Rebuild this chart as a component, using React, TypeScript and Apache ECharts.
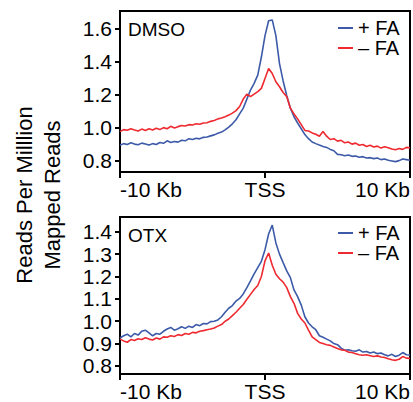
import React, { useEffect, useRef } from "react";
import * as echarts from "echarts";

// distance from TSS in kb, 0.25 kb bins from -10 to +10
const STEP_KB = 0.25;
const N_BINS = 81;
const POS_KB = Array.from({ length: N_BINS }, (_, i) => -10 + i * STEP_KB);

const X_TICK_LABELS: Record<string, string> = { "-10": "-10 Kb", "0": "TSS", "10": "10 Kb" };
const TOP_Y_TICKS = [0.8, 1.0, 1.2, 1.4, 1.6];
const BOTTOM_Y_TICKS = [0.8, 0.9, 1.0, 1.1, 1.2, 1.3, 1.4];
const SERIES_NAMES = ["+ FA", "– FA"];
const PANEL_NAMES = ["DMSO", "OTX"];

const DMSO_PLUS_FA = [
  0.895, 0.905, 0.9, 0.91, 0.902, 0.898, 0.908, 0.903, 0.896, 0.905,
  0.9, 0.912, 0.907, 0.922, 0.912, 0.918, 0.914, 0.925, 0.922, 0.935,
  0.93, 0.938, 0.934, 0.943, 0.945, 0.952, 0.958, 0.968, 0.975, 0.988,
  1.005, 1.025, 1.05, 1.085, 1.12, 1.175, 1.23, 1.27, 1.32, 1.43,
  1.56, 1.65, 1.655, 1.56, 1.39, 1.285, 1.195, 1.12, 1.068, 1.03,
  0.995, 0.96, 0.935, 0.915, 0.905, 0.896, 0.888, 0.882, 0.87, 0.862,
  0.84, 0.838, 0.832, 0.836, 0.828, 0.83, 0.822, 0.826, 0.818, 0.82,
  0.814, 0.818, 0.808, 0.812, 0.804, 0.8, 0.796, 0.802, 0.812, 0.808,
  0.804,
];

const DMSO_MINUS_FA = [
  0.978, 0.99, 0.986, 0.995, 0.988, 0.982, 0.993, 0.985, 0.995, 0.988,
  0.998, 0.99, 1.002, 0.995, 1.01, 1.0, 1.008, 1.015, 1.012, 1.02,
  1.018, 1.025, 1.022, 1.03, 1.032, 1.04, 1.045, 1.055, 1.06, 1.068,
  1.078, 1.09, 1.105, 1.13, 1.175, 1.205, 1.19, 1.205, 1.22, 1.24,
  1.3, 1.36, 1.33, 1.28, 1.25, 1.215, 1.19, 1.12, 1.085, 1.055,
  1.02, 0.985, 0.982, 0.97, 0.962, 0.95, 0.978, 0.95, 0.93, 0.935,
  0.92, 0.925, 0.91, 0.915, 0.902, 0.908, 0.895, 0.9, 0.888, 0.895,
  0.885, 0.89, 0.878, 0.886, 0.88, 0.872, 0.868, 0.875, 0.87, 0.882,
  0.88,
];

const OTX_PLUS_FA = [
  0.925, 0.935, 0.942, 0.93, 0.945, 0.938, 0.955, 0.96, 0.948, 0.935,
  0.945, 0.942, 0.955, 0.965, 0.972, 0.96, 0.966, 0.975, 0.968, 0.978,
  0.972, 0.985, 0.98, 0.99, 0.988, 0.998, 1.0, 1.006, 1.02, 1.04,
  1.058, 1.07, 1.09, 1.102, 1.122, 1.15, 1.18, 1.212, 1.24, 1.268,
  1.32, 1.39, 1.43, 1.35, 1.3, 1.262, 1.225, 1.195, 1.14, 1.11,
  1.072, 1.02, 0.992, 0.975, 0.962, 0.935, 0.928, 0.92, 0.912, 0.9,
  0.895, 0.88, 0.87, 0.872, 0.868, 0.866, 0.872, 0.862, 0.865, 0.858,
  0.862, 0.855, 0.858, 0.85, 0.845, 0.852, 0.842, 0.848, 0.86, 0.85,
  0.849,
];

const OTX_MINUS_FA = [
  0.92, 0.912, 0.906, 0.918, 0.914, 0.922, 0.918, 0.926, 0.92, 0.916,
  0.925, 0.92, 0.93, 0.928, 0.935, 0.932, 0.94, 0.936, 0.945, 0.942,
  0.95, 0.948, 0.955, 0.958, 0.962, 0.965, 0.97, 0.978, 0.985, 1.0,
  1.01, 1.025, 1.04, 1.058, 1.075, 1.098, 1.12, 1.142, 1.16, 1.2,
  1.27, 1.305, 1.25, 1.21, 1.19, 1.175, 1.15, 1.11, 1.08, 1.035,
  1.01, 0.992, 0.96, 0.93, 0.918, 0.905, 0.9, 0.895, 0.892, 0.885,
  0.878, 0.872, 0.87, 0.862, 0.86, 0.855, 0.85, 0.848, 0.85, 0.846,
  0.842, 0.845, 0.84, 0.838, 0.832, 0.828, 0.825, 0.83, 0.842, 0.835,
  0.834,
];

const BLUE = "#3C5AA8";
const RED = "#EE2A30";
const FONT = "'Liberation Sans', Arial, sans-serif";

export default function App() {
  const ref = useRef<HTMLDivElement>(null);

  useEffect(() => {
    if (!ref.current) return;
    const chart = echarts.init(ref.current, null, { renderer: "svg" });

    const grids = [
      { left: 120, top: 11, width: 290, height: 161 },
      { left: 120, top: 217, width: 290, height: 163 },
    ];
    const yRanges = [
      { min: 0.733, max: 1.709, ticks: TOP_Y_TICKS },
      { min: 0.764, max: 1.466, ticks: BOTTOM_Y_TICKS },
    ];
    const panels = [
      [DMSO_PLUS_FA, DMSO_MINUS_FA],
      [OTX_PLUS_FA, OTX_MINUS_FA],
    ];

    const option: any = {
      animation: false,
      textStyle: { fontFamily: FONT },
      grid: grids.map((g) => ({
        ...g,
        show: true,
        borderColor: "#000",
        borderWidth: 2,
        backgroundColor: "transparent",
        containLabel: false,
      })),
      xAxis: grids.map((_, gi) => ({
        type: "value",
        gridIndex: gi,
        min: -10,
        max: 10,
        interval: 10,
        splitLine: { show: false },
        axisLine: { show: true, onZero: false, lineStyle: { color: "#000", width: 2 } },
        axisTick: { show: true, length: 6, lineStyle: { color: "#000", width: 2 } },
        axisLabel: {
          color: "#000",
          fontSize: 21,
          fontFamily: FONT,
          margin: 7,
          alignMinLabel: "left",
          alignMaxLabel: "right",
          formatter: (v: number) => X_TICK_LABELS[String(Math.round(v))] ?? "",
        },
      })),
      yAxis: yRanges.map((r, gi) => ({
        type: "value",
        gridIndex: gi,
        min: r.min,
        max: r.max,
        splitLine: { show: false },
        axisLine: { show: true, onZero: false, lineStyle: { color: "#000", width: 2 } },
        axisTick: {
          show: true,
          length: 5,
          customValues: r.ticks,
          lineStyle: { color: "#000", width: 2 },
        },
        axisLabel: {
          color: "#000",
          fontSize: 21,
          fontFamily: FONT,
          margin: 8,
          customValues: r.ticks,
          formatter: (v: number) => v.toFixed(1),
        },
      })),
      legend: [{ top: 18 }, { top: 223 }].map((l) => ({
        left: 338,
        top: l.top,
        orient: "vertical",
        padding: 0,
        itemGap: 0,
        itemWidth: 15,
        itemHeight: 2,
        icon: "rect",
        data: SERIES_NAMES,
        textStyle: { fontSize: 20, color: "#000", fontFamily: FONT, lineHeight: 18 },
      })),
      series: panels.flatMap((vals, gi) =>
        vals.map((v, si) => ({
          type: "line",
          name: SERIES_NAMES[si],
          xAxisIndex: gi,
          yAxisIndex: gi,
          showSymbol: false,
          symbol: "none",
          color: si === 0 ? BLUE : RED,
          lineStyle: { width: 1.6, color: si === 0 ? BLUE : RED },
          z: si === 0 ? 2 : 3,
          data: POS_KB.map((x, i) => [x, v[i]]),
        }))
      ),
      graphic: [
        {
          type: "text",
          x: 128,
          y: 29,
          style: {
            text: PANEL_NAMES[0],
            fontSize: 19,
            fontFamily: FONT,
            fill: "#000",
            verticalAlign: "middle",
          },
        },
        {
          type: "text",
          x: 128,
          y: 235,
          style: {
            text: PANEL_NAMES[1],
            fontSize: 19,
            fontFamily: FONT,
            fill: "#000",
            verticalAlign: "middle",
          },
        },
        {
          type: "text",
          x: 38,
          y: 195,
          rotation: Math.PI / 2,
          style: {
            text: "Reads Per Milllion\nMapped Reads",
            fontSize: 22,
            lineHeight: 28,
            fontFamily: FONT,
            fill: "#000",
            align: "center",
            verticalAlign: "middle",
          },
        },
      ],
    };

    chart.setOption(option);
    return () => chart.dispose();
  }, []);

  return (
    <div
      ref={ref}
      style={{ position: "absolute", left: 0, top: 0, width: 413, height: 402, background: "#fff" }}
    />
  );
}
